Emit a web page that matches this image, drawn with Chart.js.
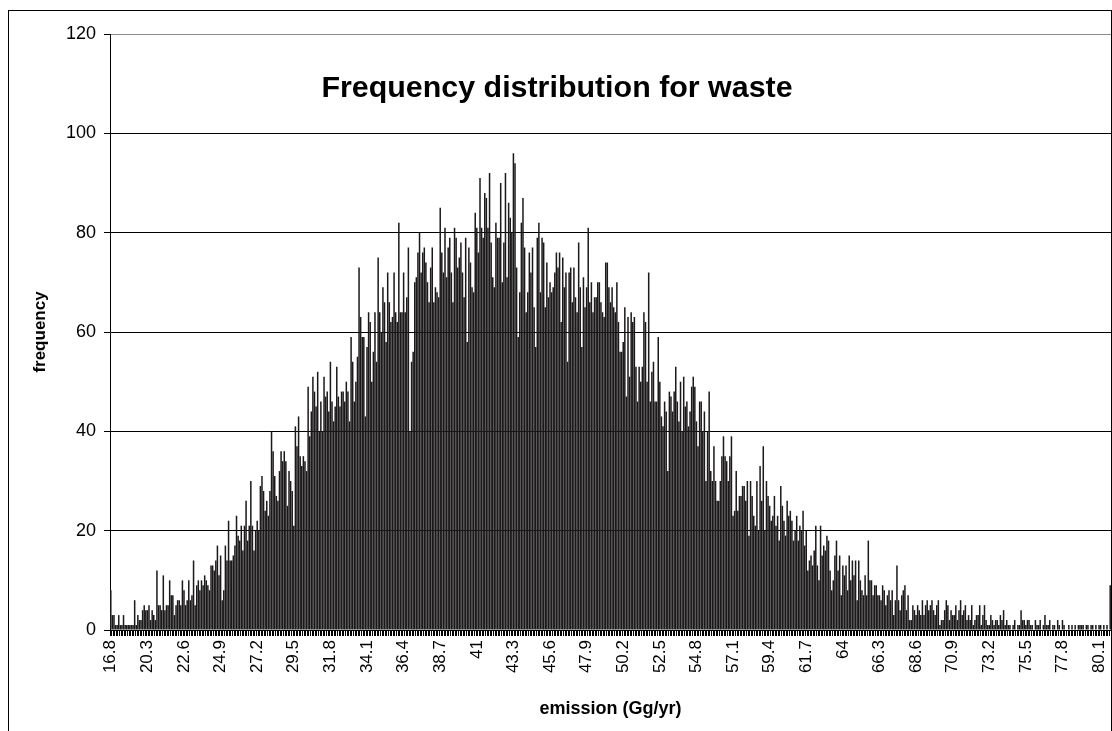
<!DOCTYPE html>
<html lang="en">
<head>
  <meta charset="UTF-8" />
  <title>Frequency distribution for waste</title>
  <script src="https://cdn.jsdelivr.net/npm/chart.js"></script>
  <style>
    body { margin: 0; background: #fff; }
    #wrap { width: 1112px; height: 731px; }
  </style>
</head>
<body>
  <div id="wrap"><canvas id="chart" width="1112" height="731"></canvas></div>

  <script>
    // frequencies per emission bin, left to right
    const freqPart1 = [8,3,3,1,1,3,1,1,3,1, 1,1,1,1,1,6,1,3,2,2, 4,5,4,4,5,2,4,3,2,12,
      5,5,4,11,4,5,5,10,7,7, 3,5,6,6,5,10,8,5,6,10, 6,7,14,5,9,10,8,10,9,11];
    const freqPart2 = [10,9,8,13,13,12,14,17,11,15, 6,8,17,14,22,14,14,15,17,23,
      19,18,21,16,21,26,18,21,30,21, 16,20,22,20,29,31,28,24,26,23,
      28,40,36,31,27,26,32,36,34,36, 34,25,32,30,28,21,41,37,43,35, 33,35,34];
    const freqPart3 = [32,49,39,44,51,48,45,52,40,46, 40,51,47,48,44,54,46,42,45,53,
      47,45,48,48,46,50,48,42,59,54, 46,50,55,73,63,59,59,43,57,64,
      62,50,56,64,54,75,64,60,69,66, 58,72,66,62,63,72,64,62,82,64, 64,72,64];
    const freqPart4 = [67,77,40,54,56,70,71,76,80,72, 76,77,74,70,66,73,77,66,69,68,
      67,85,76,72,81,71,77,79,72,66, 81,79,73,75,78,72,67,79,58,77,
      74,69,68,84,81,76,91,81,79,88, 87,81,92,78,71,69,82,79,79,90, 70,78,92];
    const freqPart5 = [71,86,83,80,96,94,73,59,68,82, 87,77,64,68,76,72,77,65,57,79,
      82,68,79,78,65,74,67,70,68,69, 72,76,73,76,62,75,69,72,54,72,
      73,66,73,67,64,78,69,57,71,65, 69,81,66,70,64,67,67,70,70,66, 64,63,74];
    const freqPart6 = [74,69,66,69,65,64,70,62,56,56, 58,65,47,63,51,64,62,63,53,46,
      53,50,53,64,62,50,72,46,52,54, 46,46,59,50,43,41,46,44,32,48,
      47,44,48,53,46,42,50,40,51,45, 46,41,44,49,51,49,42,37,46,46, 40,44,30];
    const freqPart7 = [40,48,32,30,37,30,26,26,30,35, 39,35,34,30,35,39,23,24,32,24,
      27,27,29,29,26,30,19,30,27,23, 21,30,20,33,26,37,20,30,27,25,
      22,23,27,21,23,18,29,25,22,19, 26,23,24,22,18,20,23,18,21,20, 24,17,20];
    const freqPart8 = [12,14,15,13,16,21,13,10,21,15, 17,16,19,18,12,8,10,15,18,12,
      15,7,13,11,13,8,15,10,14,11, 14,6,14,10,8,7,11,7,18,10,
      10,7,9,9,7,7,6,9,8,5, 7,8,6,8,3,6,13,6,4,7, 8,9,4];
    const freqPart9 = [7,2,2,5,4,3,5,4,3,6, 3,5,6,4,5,6,4,3,5,6,
      1,2,2,4,6,5,2,4,3,3, 5,2,4,6,3,4,5,2,3,2,
      5,1,2,3,3,5,1,3,5,2, 1,1,3,2,1,2,2,1,3,2, 4,1,2];
    const freqPart10 = [1,1,0,1,2,0,1,1,4,2, 2,1,2,2,1,1,0,2,1,1,
      2,0,1,3,1,1,2,0,1,1, 0,2,1,0,2,1,0,0,1,0,
      1,0,1,0,1,1,1,1,0,1, 1,0,1,1,0,1,0,1,1,0, 1,0,1,0,9];

    // labels shown under every 23rd bin
    const tickLabels = ['16.8','20.3','22.6','24.9','27.2','29.5','31.8','34.1','36.4','38.7',
      '41','43.3','45.6','47.9','50.2','52.5','54.8','57.1','59.4','61.7',
      '64','66.3','68.6','70.9','73.2','75.5','77.8','80.1'];
    const tickEvery = 23;

    const freq = [].concat(freqPart1, freqPart2, freqPart3, freqPart4, freqPart5,
      freqPart6, freqPart7, freqPart8, freqPart9, freqPart10);

    // first bin is 16.8, then 18.1, 18.2, ... in steps of 0.1
    const bins = freq.map((_, i) => i === 0 ? '16.8' : (18 + i / 10).toFixed(1));

    const FONT = '"Liberation Sans", Arial, sans-serif';

    const framePlugin = {
      id: 'frame',
      beforeDraw(c) {
        const g = c.ctx;
        g.save();
        g.fillStyle = '#fff';
        g.fillRect(0, 0, c.width, c.height);
        g.strokeStyle = '#000';
        g.lineWidth = 1;
        g.strokeRect(8.5, 10.5, 1103, 740);
        g.restore();
      }
    };

    const titlePlugin = {
      id: 'innerTitle',
      afterDraw(c) {
        const g = c.ctx;
        g.save();
        g.font = 'bold 30.4px ' + FONT;
        g.fillStyle = '#000';
        g.textAlign = 'center';
        g.textBaseline = 'alphabetic';
        g.fillText('Frequency distribution for waste', 557, 97);
        g.restore();
      }
    };

    const ctx = document.getElementById('chart').getContext('2d');
    const chart = new Chart(ctx, {
      type: 'bar',
      data: {
        labels: bins,
        datasets: [{
          data: freq,
          backgroundColor: '#1c191a',
          barPercentage: 0.95,
          categoryPercentage: 1
        }]
      },
      options: {
        responsive: false,
        animation: false,
        layout: { padding: { top: 34, right: 1, left: 0, bottom: 0 } },
        plugins: {
          legend: { display: false },
          tooltip: { enabled: false }
        },
        scales: {
          x: {
            grid: { display: true, drawOnChartArea: false, drawTicks: true, tickLength: 6, color: '#000' },
            border: { display: true, color: '#000' },
            ticks: {
              autoSkip: false,
              maxRotation: 90,
              minRotation: 90,
              padding: 4,
              color: '#000',
              font: { family: FONT, size: 17 },
              callback: (v, i) => i % tickEvery === 0 ? tickLabels[i / tickEvery] : ''
            },
            title: {
              display: true,
              text: 'emission (Gg/yr)',
              color: '#000',
              font: { family: FONT, size: 18, weight: 'bold' },
              padding: { top: 0, bottom: 11 }
            },
            afterFit: s => { s.height = 101; s.paddingLeft = 0; s.paddingRight = 0; }
          },
          y: {
            min: 0,
            max: 120,
            ticks: { stepSize: 20, padding: 8, color: '#000', font: { family: FONT, size: 18 } },
            grid: {
              color: c => (c.tick && c.tick.value === 120) ? '#8c8c8c' : '#000',
              tickColor: '#000',
              tickLength: 6
            },
            border: { color: '#000' },
            title: {
              display: true,
              text: 'frequency',
              color: '#000',
              font: { family: FONT, size: 17, weight: 'bold' },
              padding: { top: 30, bottom: 0 }
            },
            afterFit: s => { s.width = 110; s.paddingTop = 0; s.paddingBottom = 0; }
          }
        }
      },
      plugins: [framePlugin, titlePlugin]
    });
  </script>
</body>
</html>
